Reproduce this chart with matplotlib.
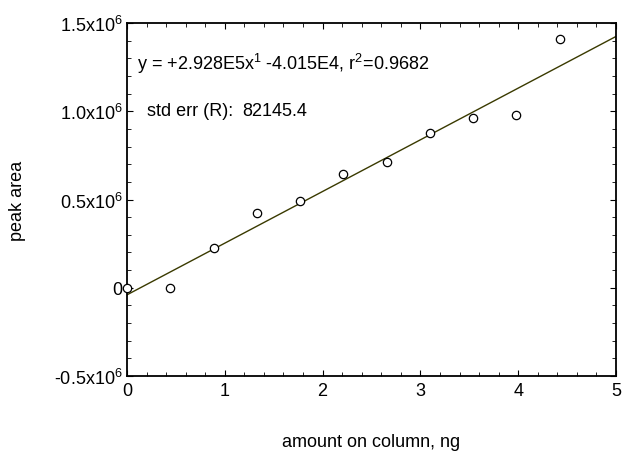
import numpy as np
import matplotlib
matplotlib.use("Agg")
import matplotlib.pyplot as plt
from matplotlib.ticker import MultipleLocator, FixedLocator

plt.rcParams['font.family'] = ['Liberation Sans', 'DejaVu Sans']
plt.rcParams['mathtext.fontset'] = 'custom'
plt.rcParams['mathtext.rm'] = 'Liberation Sans'
plt.rcParams['mathtext.default'] = 'regular'

# data
amount_ng = [0.0, 0.4425, 0.885, 1.3275, 1.77, 2.2125, 2.655, 3.0975, 3.54, 3.9825, 4.425]
peak_area = [0.0, 0.0, 0.226e6, 0.421e6, 0.491e6, 0.642e6, 0.714e6, 0.874e6, 0.961e6, 0.980e6, 1.411e6]

# fit from the chart annotation
slope = 2.928e5
intercept = -4.015e4

y_ticks = [-0.5e6, 0, 0.5e6, 1.0e6, 1.5e6]
y_ticklabels = [r'-0.5x10$^6$', '0', r'0.5x10$^6$', r'1.0x10$^6$', r'1.5x10$^6$']

W, H = 624, 456
fig = plt.figure(figsize=(W / 100, H / 100), dpi=100)
ax = fig.add_axes([127 / W, 1 - 377 / H, (616 - 127) / W, (377 - 24) / H])

xfit = np.array([0, 5])
ax.plot(xfit, slope * xfit + intercept, color='#3a3a00', lw=1.0)
ax.plot(amount_ng, peak_area, 'o', mfc='white', mec='black', ms=6, mew=0.9,
        linestyle='none', clip_on=False, zorder=3)

ax.set_xlim(0, 5)
ax.set_ylim(-0.5e6, 1.5e6)
ax.xaxis.set_major_locator(MultipleLocator(1))
ax.xaxis.set_minor_locator(MultipleLocator(0.2))
ax.yaxis.set_major_locator(FixedLocator(y_ticks))
ax.yaxis.set_minor_locator(MultipleLocator(0.1e6))
ax.set_yticklabels(y_ticklabels)

ax.tick_params(which='both', direction='in', top=True, right=True, labelsize=13)
ax.tick_params(which='major', length=4, width=0.8)
ax.tick_params(which='minor', length=3, width=0.6)
ax.tick_params(axis='x', pad=4)
ax.tick_params(axis='y', pad=3)
for s in ax.spines.values():
    s.set_linewidth(1.3)

ax.set_xlabel('amount on column, ng', fontsize=13, labelpad=25)
ax.set_ylabel('peak area', fontsize=13, labelpad=20)

def fig_text(x, y, s):
    fig.text(x / W, 1 - y / H, s, fontsize=13, va='center', ha='left')

fig_text(137, 64, r'y = +2.928E5x$^1$ -4.015E4, r$^2$=0.9682')
fig_text(147, 112, 'std err (R):')
fig_text(242, 112, '82145.4')

fig.savefig('out.png', dpi=100)
